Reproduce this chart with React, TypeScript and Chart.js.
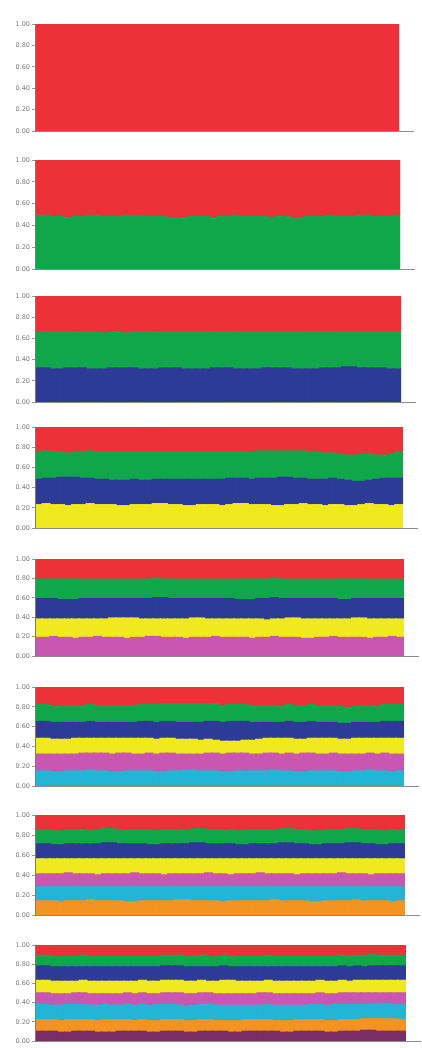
import { useEffect, useRef } from "react";
import { Chart, registerables } from "chart.js";
Chart.register(...registerables);

// ---------- data ----------
const N = 50;
const individuals = Array.from({ length: N }, (_, i) => `ind${i + 1}`);
const yTicks = [0, 0.2, 0.4, 0.6, 0.8, 1.0];
// cluster colours: red, green, blue, yellow, magenta, cyan, orange, purple
const clusterColors = ["#EC3238", "#10A74B", "#2D3B97", "#EFE91E", "#C957B1", "#22B5D6", "#F29322", "#7A2D69"];

const green2 = [
  0.49,0.49,0.48,0.48,0.47,0.48,0.48,0.49,0.49,0.48,
  0.48,0.48,0.49,0.49,0.49,0.48,0.48,0.48,0.47,0.47,
  0.47,0.48,0.48,0.48,0.47,0.48,0.48,0.49,0.48,0.48,
  0.48,0.48,0.47,0.48,0.48,0.47,0.47,0.48,0.48,0.48,
  0.49,0.48,0.48,0.48,0.49,0.49,0.48,0.48,0.48,0.49];

const blue3 = [
  0.32,0.32,0.31,0.31,0.32,0.32,0.32,0.31,0.31,0.31,
  0.32,0.32,0.32,0.32,0.31,0.31,0.31,0.32,0.32,0.32,
  0.31,0.31,0.31,0.31,0.32,0.32,0.32,0.31,0.31,0.31,
  0.31,0.32,0.32,0.32,0.32,0.31,0.31,0.31,0.31,0.32,
  0.32,0.32,0.33,0.33,0.32,0.32,0.32,0.32,0.31,0.31];
const green3 = [
  0.34,0.34,0.35,0.35,0.34,0.34,0.34,0.35,0.35,0.34,
  0.34,0.34,0.33,0.34,0.35,0.35,0.35,0.34,0.34,0.34,
  0.35,0.35,0.35,0.35,0.34,0.34,0.34,0.35,0.35,0.35,
  0.35,0.34,0.34,0.34,0.34,0.35,0.35,0.35,0.35,0.34,
  0.34,0.34,0.33,0.33,0.34,0.34,0.34,0.34,0.35,0.35];

const yellow4 = [
  0.23,0.24,0.23,0.23,0.22,0.23,0.23,0.24,0.23,0.23,
  0.23,0.22,0.22,0.23,0.23,0.23,0.24,0.24,0.23,0.23,
  0.22,0.22,0.23,0.23,0.23,0.22,0.23,0.24,0.24,0.23,
  0.23,0.23,0.22,0.22,0.23,0.23,0.24,0.23,0.23,0.22,
  0.23,0.23,0.22,0.22,0.23,0.24,0.23,0.23,0.22,0.23];
const blue4 = [
  0.25,0.25,0.26,0.27,0.28,0.27,0.26,0.25,0.25,0.25,
  0.24,0.25,0.25,0.25,0.24,0.24,0.24,0.24,0.25,0.25,
  0.26,0.26,0.25,0.25,0.25,0.26,0.26,0.25,0.25,0.25,
  0.26,0.26,0.27,0.28,0.27,0.26,0.25,0.25,0.25,0.26,
  0.26,0.25,0.25,0.24,0.23,0.23,0.25,0.26,0.27,0.26];
const green4 = [
  0.27,0.27,0.26,0.25,0.24,0.25,0.26,0.27,0.27,0.27,
  0.28,0.28,0.28,0.27,0.28,0.28,0.27,0.27,0.27,0.27,
  0.27,0.27,0.27,0.27,0.27,0.27,0.26,0.26,0.26,0.27,
  0.27,0.27,0.27,0.26,0.26,0.27,0.27,0.27,0.27,0.26,
  0.25,0.25,0.25,0.26,0.27,0.26,0.24,0.23,0.24,0.26];

const magenta5 = [
  0.19,0.19,0.20,0.19,0.19,0.18,0.19,0.19,0.20,0.19,
  0.19,0.19,0.18,0.19,0.19,0.20,0.20,0.19,0.19,0.19,
  0.18,0.19,0.19,0.19,0.20,0.19,0.19,0.19,0.19,0.18,
  0.19,0.19,0.20,0.19,0.19,0.19,0.18,0.18,0.19,0.19,
  0.20,0.19,0.19,0.19,0.19,0.18,0.19,0.19,0.20,0.19];
const yellow5 = [
  0.19,0.19,0.18,0.19,0.19,0.20,0.19,0.19,0.18,0.19,
  0.20,0.20,0.21,0.20,0.19,0.18,0.18,0.19,0.19,0.19,
  0.20,0.20,0.20,0.19,0.18,0.19,0.19,0.19,0.19,0.20,
  0.19,0.18,0.18,0.19,0.20,0.20,0.20,0.20,0.19,0.19,
  0.18,0.19,0.19,0.20,0.20,0.20,0.19,0.19,0.18,0.19];
const blue5 = [
  0.21,0.21,0.21,0.20,0.20,0.20,0.21,0.21,0.21,0.21,
  0.20,0.20,0.20,0.20,0.21,0.21,0.22,0.22,0.21,0.21,
  0.21,0.20,0.20,0.21,0.21,0.21,0.21,0.20,0.20,0.20,
  0.21,0.22,0.22,0.21,0.20,0.20,0.21,0.21,0.21,0.21,
  0.21,0.20,0.20,0.20,0.20,0.21,0.21,0.21,0.21,0.21];
const green5 = [
  0.20,0.20,0.20,0.21,0.21,0.21,0.20,0.20,0.20,0.20,
  0.20,0.20,0.20,0.20,0.20,0.20,0.20,0.19,0.20,0.20,
  0.20,0.20,0.20,0.20,0.20,0.20,0.20,0.21,0.21,0.21,
  0.20,0.20,0.20,0.20,0.20,0.20,0.20,0.20,0.20,0.20,
  0.20,0.21,0.21,0.20,0.20,0.20,0.20,0.20,0.20,0.20];

const cyan6 = [
  0.15,0.15,0.14,0.14,0.15,0.15,0.15,0.16,0.15,0.15,
  0.14,0.14,0.15,0.15,0.15,0.15,0.14,0.14,0.15,0.15,
  0.16,0.16,0.15,0.15,0.15,0.14,0.14,0.15,0.15,0.15,
  0.15,0.15,0.16,0.15,0.15,0.14,0.14,0.15,0.15,0.15,
  0.15,0.14,0.14,0.15,0.15,0.16,0.15,0.15,0.14,0.15];
const magenta6 = [
  0.17,0.17,0.18,0.18,0.17,0.17,0.18,0.17,0.18,0.18,
  0.18,0.19,0.18,0.17,0.17,0.18,0.18,0.19,0.18,0.17,
  0.16,0.16,0.17,0.18,0.18,0.18,0.19,0.18,0.18,0.17,
  0.17,0.18,0.17,0.17,0.18,0.18,0.19,0.18,0.17,0.17,
  0.18,0.18,0.18,0.17,0.17,0.17,0.17,0.18,0.18,0.17];
const yellow6 = [
  0.16,0.16,0.15,0.15,0.15,0.16,0.15,0.15,0.15,0.15,
  0.16,0.15,0.15,0.16,0.16,0.15,0.15,0.15,0.15,0.15,
  0.15,0.15,0.14,0.14,0.13,0.13,0.12,0.12,0.13,0.14,
  0.15,0.15,0.15,0.16,0.15,0.15,0.14,0.15,0.16,0.16,
  0.15,0.15,0.15,0.16,0.16,0.15,0.16,0.15,0.16,0.16];
const blue6 = [
  0.17,0.17,0.17,0.17,0.17,0.16,0.16,0.17,0.16,0.16,
  0.16,0.16,0.16,0.16,0.17,0.17,0.17,0.17,0.17,0.17,
  0.17,0.17,0.18,0.18,0.19,0.19,0.20,0.20,0.19,0.18,
  0.17,0.16,0.16,0.16,0.17,0.17,0.17,0.17,0.16,0.16,
  0.16,0.16,0.16,0.16,0.16,0.16,0.16,0.17,0.17,0.17];
const green6 = [
  0.17,0.17,0.17,0.17,0.17,0.17,0.17,0.17,0.17,0.17,
  0.17,0.17,0.17,0.17,0.17,0.17,0.18,0.18,0.18,0.19,
  0.19,0.19,0.19,0.18,0.18,0.17,0.17,0.17,0.17,0.17,
  0.17,0.17,0.17,0.17,0.17,0.17,0.17,0.17,0.17,0.17,
  0.17,0.17,0.16,0.16,0.17,0.17,0.17,0.17,0.17,0.17];

const orange7 = [
  0.14,0.14,0.14,0.13,0.14,0.14,0.14,0.15,0.14,0.14,
  0.14,0.14,0.13,0.13,0.14,0.14,0.14,0.14,0.14,0.15,
  0.15,0.14,0.14,0.14,0.14,0.13,0.14,0.14,0.14,0.14,
  0.14,0.14,0.15,0.14,0.14,0.14,0.14,0.13,0.13,0.14,
  0.14,0.14,0.14,0.15,0.14,0.14,0.14,0.14,0.13,0.14];
const cyan7 = [
  0.14,0.14,0.14,0.15,0.14,0.14,0.14,0.13,0.14,0.14,
  0.14,0.14,0.15,0.15,0.14,0.14,0.14,0.14,0.14,0.13,
  0.13,0.14,0.14,0.14,0.14,0.15,0.14,0.14,0.14,0.14,
  0.14,0.14,0.13,0.14,0.14,0.14,0.14,0.15,0.15,0.14,
  0.14,0.14,0.14,0.13,0.14,0.14,0.14,0.14,0.15,0.14];
const magenta7 = [
  0.13,0.13,0.13,0.13,0.14,0.13,0.13,0.13,0.12,0.13,
  0.13,0.13,0.13,0.14,0.13,0.13,0.13,0.12,0.13,0.13,
  0.13,0.13,0.13,0.14,0.13,0.13,0.12,0.13,0.13,0.13,
  0.14,0.13,0.13,0.13,0.13,0.12,0.13,0.13,0.13,0.13,
  0.13,0.14,0.13,0.13,0.13,0.12,0.13,0.13,0.13,0.13];
const yellow7 = [
  0.15,0.15,0.15,0.15,0.14,0.15,0.15,0.15,0.16,0.15,
  0.15,0.15,0.15,0.14,0.15,0.15,0.15,0.16,0.15,0.15,
  0.15,0.15,0.15,0.14,0.15,0.15,0.16,0.15,0.15,0.15,
  0.14,0.15,0.15,0.15,0.15,0.16,0.15,0.15,0.15,0.15,
  0.15,0.14,0.15,0.15,0.15,0.16,0.15,0.15,0.15,0.15];
const blue7 = [
  0.15,0.15,0.14,0.14,0.15,0.15,0.15,0.15,0.15,0.16,
  0.16,0.15,0.15,0.15,0.15,0.14,0.14,0.15,0.15,0.15,
  0.15,0.16,0.16,0.15,0.15,0.15,0.15,0.14,0.14,0.15,
  0.15,0.15,0.15,0.16,0.16,0.15,0.15,0.14,0.14,0.15,
  0.15,0.15,0.16,0.16,0.15,0.15,0.14,0.14,0.15,0.15];
const green7 = [
  0.14,0.14,0.14,0.14,0.14,0.14,0.14,0.13,0.14,0.14,
  0.14,0.14,0.14,0.14,0.14,0.15,0.14,0.14,0.14,0.14,
  0.14,0.14,0.14,0.14,0.14,0.14,0.14,0.14,0.15,0.14,
  0.14,0.14,0.14,0.14,0.14,0.14,0.14,0.14,0.14,0.14,
  0.14,0.14,0.14,0.14,0.14,0.14,0.15,0.14,0.14,0.14];

const purple8 = [
  0.10,0.10,0.10,0.09,0.09,0.10,0.10,0.10,0.09,0.09,
  0.09,0.10,0.10,0.10,0.10,0.09,0.09,0.10,0.10,0.10,
  0.09,0.09,0.10,0.10,0.10,0.10,0.09,0.09,0.10,0.10,
  0.10,0.10,0.10,0.09,0.09,0.10,0.10,0.10,0.10,0.09,
  0.09,0.10,0.10,0.10,0.11,0.11,0.10,0.10,0.10,0.10];
const orange8 = [
  0.12,0.12,0.12,0.12,0.13,0.12,0.12,0.12,0.12,0.13,
  0.13,0.12,0.12,0.11,0.12,0.12,0.12,0.12,0.12,0.12,
  0.12,0.12,0.12,0.12,0.11,0.11,0.12,0.12,0.12,0.12,
  0.12,0.12,0.11,0.12,0.12,0.12,0.12,0.12,0.12,0.12,
  0.12,0.12,0.12,0.12,0.12,0.12,0.13,0.13,0.13,0.12];
const cyan8 = [
  0.16,0.16,0.15,0.16,0.16,0.16,0.16,0.15,0.16,0.16,
  0.15,0.15,0.16,0.16,0.16,0.16,0.17,0.16,0.16,0.15,
  0.15,0.16,0.16,0.16,0.16,0.16,0.16,0.16,0.15,0.15,
  0.15,0.16,0.16,0.16,0.16,0.15,0.15,0.16,0.16,0.16,
  0.17,0.16,0.16,0.16,0.15,0.15,0.16,0.16,0.15,0.16];
const magenta8 = [
  0.12,0.12,0.12,0.12,0.11,0.12,0.12,0.12,0.12,0.11,
  0.12,0.12,0.12,0.12,0.12,0.12,0.11,0.12,0.12,0.13,
  0.13,0.12,0.12,0.12,0.12,0.12,0.12,0.12,0.12,0.12,
  0.13,0.12,0.12,0.12,0.12,0.12,0.12,0.11,0.12,0.12,
  0.11,0.12,0.12,0.12,0.12,0.12,0.11,0.11,0.12,0.12];
const yellow8 = [
  0.13,0.13,0.13,0.13,0.13,0.12,0.13,0.13,0.13,0.13,
  0.13,0.13,0.12,0.13,0.13,0.13,0.13,0.13,0.13,0.13,
  0.13,0.13,0.13,0.12,0.13,0.14,0.14,0.13,0.13,0.13,
  0.12,0.13,0.13,0.13,0.13,0.13,0.13,0.13,0.13,0.13,
  0.13,0.13,0.12,0.13,0.13,0.13,0.13,0.13,0.13,0.13];
const blue8 = [
  0.15,0.15,0.15,0.15,0.15,0.15,0.14,0.15,0.15,0.15,
  0.15,0.15,0.15,0.15,0.14,0.15,0.15,0.15,0.15,0.15,
  0.15,0.15,0.14,0.15,0.15,0.15,0.14,0.15,0.15,0.15,
  0.15,0.14,0.15,0.15,0.15,0.15,0.15,0.15,0.14,0.15,
  0.15,0.15,0.15,0.15,0.14,0.15,0.15,0.15,0.15,0.15];
const green8 = [
  0.11,0.11,0.11,0.11,0.11,0.11,0.12,0.11,0.11,0.11,
  0.11,0.11,0.11,0.11,0.11,0.11,0.11,0.11,0.11,0.11,
  0.11,0.11,0.12,0.11,0.11,0.11,0.11,0.11,0.11,0.11,
  0.11,0.12,0.11,0.11,0.11,0.11,0.11,0.11,0.11,0.11,
  0.11,0.11,0.11,0.11,0.12,0.12,0.11,0.11,0.11,0.11];

// Layers of each panel, bottom-up (the red cluster on top holds the remainder)
const panelLayers: number[][][] = [
  [],
  [green2],
  [blue3, green3],
  [yellow4, blue4, green4],
  [magenta5, yellow5, blue5, green5],
  [cyan6, magenta6, yellow6, blue6, green6],
  [orange7, cyan7, magenta7, yellow7, blue7, green7],
  [purple8, orange8, cyan8, magenta8, yellow8, blue8, green8],
];

// ---------- layout ----------
const boxes = [
  { top: 24, bottom: 133, right: 413 },
  { top: 160, bottom: 271, right: 414 },
  { top: 296, bottom: 404, right: 415 },
  { top: 427, bottom: 530, right: 417 },
  { top: 559, bottom: 658, right: 418 },
  { top: 687, bottom: 788, right: 418 },
  { top: 815, bottom: 917, right: 419 },
  { top: 945, bottom: 1043, right: 420 },
];
const PAD_T = 6;
const PAD_B = 4;
const W = 422;

function Panel({ index }: { index: number }) {
  const ref = useRef<HTMLCanvasElement | null>(null);
  const box = boxes[index];
  const h = box.bottom - box.top + PAD_T + PAD_B;
  useEffect(() => {
    if (!ref.current) return;
    const layers = panelLayers[index];
    const K = layers.length + 1;
    const datasets: any[] = layers.map((arr, j) => ({
      label: `cluster ${K - j}`,
      data: arr.slice(0, N),
      backgroundColor: clusterColors[K - 1 - j],
      borderWidth: 0,
      inflateAmount: 0.8,
    }));
    const red = individuals.map((_, i) => {
      let s = 0;
      for (const arr of layers) s += arr[i];
      return Math.max(0, +(1 - s).toFixed(4));
    });
    datasets.push({ label: "cluster 1", data: red, backgroundColor: clusterColors[0], borderWidth: 0, inflateAmount: 0.8 });

    const chart = new Chart(ref.current, {
      type: "bar",
      data: { labels: [...individuals, "", ""], datasets },
      options: {
        animation: false,
        responsive: false,
        maintainAspectRatio: false,
        devicePixelRatio: 1,
        layout: { padding: { top: PAD_T, bottom: PAD_B, left: 0, right: W - box.right } },
        plugins: { legend: { display: false }, tooltip: { enabled: false }, title: { display: false } },
        datasets: { bar: { barPercentage: 1, categoryPercentage: 1 } },
        scales: {
          x: {
            stacked: true,
            ticks: { display: false },
            grid: { display: false, drawTicks: false },
            border: { display: true, color: "#8c8c8c", width: 1, z: 1 },
            afterFit: (s: any) => { s.height = 0; },
          },
          y: {
            stacked: true,
            min: 0,
            max: 1,
            afterBuildTicks: (s: any) => { s.ticks = yTicks.map((v) => ({ value: v })); },
            ticks: {
              callback: (v: any) => Number(v).toFixed(2),
              color: "#808080",
              font: { size: 6.5, family: "DejaVu Sans" },
              padding: 2,
            },
            grid: { display: true, drawOnChartArea: false, drawTicks: true, tickLength: 3, color: "#9a9a9a" },
            border: { display: true, color: "#7a7a7a", width: 1, z: 1 },
            afterFit: (s: any) => { s.width = 35; },
          },
        },
      },
    });
    return () => chart.destroy();
  }, [index]);
  return (
    <canvas
      ref={ref}
      width={W}
      height={h}
      style={{ position: "absolute", left: 0, top: box.top - PAD_T, width: W, height: h }}
    />
  );
}

export default function App() {
  return (
    <div style={{ position: "absolute", left: 0, top: 0, width: 422, height: 1048, background: "#fff" }}>
      {boxes.map((_, i) => (
        <Panel key={i} index={i} />
      ))}
    </div>
  );
}
